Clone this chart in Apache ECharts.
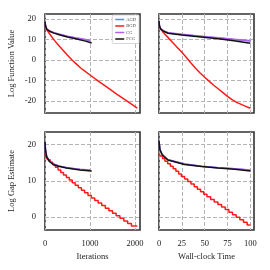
<!DOCTYPE html>
<html><head><meta charset="utf-8">
<script src="https://cdn.jsdelivr.net/npm/echarts@6/dist/echarts.min.js"></script>
<style>html,body{margin:0;padding:0;background:#fff}#c{width:270px;height:270px}</style>
</head><body><div id="c"></div>
<script>
// ---- data ----
const seriesNames = ['AGD', 'BGD', 'CG', 'FCG'];
const seriesColors = ['#5a8fd6', '#ff1a1a', '#b45ef0', '#111111'];

// Log function value vs iterations
const fvIterAGD = [[0,18.7],[10,16.9],[37,15.2],[100,14.1],[200,13.2],[333,12.4],[500,11.5],[704,10.6],[900,9.9],[1000,9.3]];
const fvIterBGD = [[0,16],[100,12.8],[200,9.8],[300,7.2],[400,4.8],[500,2.3],[600,0],[700,-2],[800,-4],[900,-5.7],[1000,-7.3],[1200,-10.5],[1400,-13.6],[1600,-16.7],[1800,-19.7],[2000,-22.7],[2050,-23.4]];
const fvIterCG  = [[0,18.7],[10,16.9],[37,15.2],[100,14.2],[200,13.3],[333,12.5],[500,11.6],[704,10.7],[900,10.0],[1000,9.5]];
const fvIterFCG = [[0,18.7],[10,16.8],[37,15.0],[100,14.0],[200,13.1],[333,12.2],[500,11.2],[704,10.2],[900,9.2],[1037,8.3]];

// Log function value vs wall-clock time
const fvTimeAGD = [[0,19],[0.5,16.6],[2,15.2],[5,14.2],[10,13.2],[25,12.4],[46,11.5],[65,10.7],[82,10.0],[100,9.2]];
const fvTimeBGD = [[0,16],[5,13.3],[10,10.9],[15,8.5],[20,6.1],[25,3.8],[30,1.2],[35,-1.5],[40,-4.0],[45,-6.3],[50,-8.4],[55,-10.4],[60,-12.3],[65,-14.1],[70,-15.9],[75,-17.7],[80,-19.3],[85,-20.6],[90,-21.6],[95,-22.6],[100,-23.5]];
const fvTimeCG  = [[0,19],[0.5,16.6],[2,15.2],[5,14.2],[10,13.3],[25,12.5],[46,11.6],[65,10.8],[82,10.1],[100,9.4]];
const fvTimeFCG = [[0,19],[0.5,16.5],[2,15.0],[5,14.0],[10,13.0],[25,12.2],[46,11.2],[65,10.3],[82,9.4],[100,8.2]];

// Log gap estimate vs iterations
const gapIterAGD = [[0,20.7],[10,18.6],[37,16.7],[100,15.4],[185,14.6],[300,14.1],[481,13.6],[778,13.1],[1000,12.9]];
const gapIterBGD = [[0,17.2],[20,16.5],[60,15.8],[115,15.1],[170,14.4],[230,13.7],[290,13.0],[350,12.3],[410,11.6],[475,10.9],[540,10.2],[605,9.5],[670,8.8],[740,8.1],[810,7.4],[880,6.7],[955,6.0],[1030,5.3],[1105,4.6],[1180,3.9],[1260,3.2],[1340,2.5],[1420,1.8],[1500,1.1],[1580,0.4],[1665,-0.3],[1750,-1.0],[1835,-1.7],[1920,-2.4],[2050,-2.4]];
const gapIterCG  = [[0,20.7],[10,18.6],[37,16.7],[100,15.4],[185,14.6],[300,14.1],[481,13.6],[778,13.2],[1000,13.0]];
const gapIterFCG = [[0,20.7],[10,18.5],[37,16.6],[100,15.3],[185,14.5],[300,14.0],[481,13.5],[778,13.0],[1037,12.7]];

// Log gap estimate vs wall-clock time
const gapTimeAGD = [[0,21],[1,18.6],[3.6,17.2],[9.8,15.8],[28,14.6],[46.6,14.0],[64.8,13.6],[83,13.3],[100,12.9]];
const gapTimeBGD = [[0,17.5],[1.5,16.8],[4,16.1],[6.5,15.4],[9.5,14.7],[12.5,14.0],[15.5,13.3],[18.5,12.6],[21.5,11.9],[24.5,11.2],[28,10.5],[31.5,9.8],[35,9.1],[38.5,8.4],[42,7.7],[45.5,7.0],[49,6.3],[52.5,5.6],[56.5,4.9],[60.5,4.2],[64.5,3.5],[68.5,2.8],[72.5,2.1],[76.5,1.4],[80.5,0.7],[84.5,0.0],[88.5,-0.7],[92.5,-1.4],[96.5,-2.1],[100,-2.1]];
const gapTimeCG  = [[0,21],[1,18.6],[3.6,17.2],[9.8,15.8],[28,14.6],[46.6,14.0],[64.8,13.6],[83,13.3],[100,13.0]];
const gapTimeFCG = [[0,21],[1,18.5],[3.6,17.1],[9.8,15.7],[28,14.5],[46.6,13.9],[64.8,13.5],[83,13.2],[100,12.7]];

const fvTicks = [-20, -10, 0, 10, 20];
const gapTicks = [0, 10, 20];
const iterTicks = [0, 1000, 2000];
const timeTicks = [0, 25, 50, 75, 100];

const panels = [
  {data: [fvIterAGD, fvIterBGD, fvIterCG, fvIterFCG], bgdStep: false},
  {data: [fvTimeAGD, fvTimeBGD, fvTimeCG, fvTimeFCG], bgdStep: false},
  {data: [gapIterAGD, gapIterBGD, gapIterCG, gapIterFCG], bgdStep: true},
  {data: [gapTimeAGD, gapTimeBGD, gapTimeCG, gapTimeFCG], bgdStep: true}
];

// ---- chart ----
const FONT = 'Liberation Serif';
const gridLine = {show: true, lineStyle: {color: '#b4b4b4', width: 1, type: [4, 2]}};
const L = [45, 159], T = [14, 132], W = 95, H = [99, 98];
const grids = [];
for (let r = 0; r < 2; r++) for (let c = 0; c < 2; c++) {
  grids.push({left: L[c], top: T[r], width: W, height: H[r], show: true, borderColor: '#333', borderWidth: 1.6, backgroundColor: 'transparent', containLabel: false});
}
const fmt = v => String(v);
function xAx(i, isTime, showLabels, name) {
  return {type: 'value', gridIndex: i, min: 0, max: isTime ? 104 : 2110,
    axisLine: {show: false}, axisTick: {show: false, customValues: isTime ? timeTicks : iterTicks},
    axisLabel: {show: showLabels, customValues: isTime ? timeTicks : iterTicks, formatter: fmt, fontFamily: FONT, fontSize: 8.5, color: '#222', margin: 9},
    splitLine: gridLine,
    name: name, nameLocation: 'middle', nameGap: 22, nameTextStyle: {fontFamily: FONT, fontSize: 8.5, color: '#222'}};
}
function yAx(i, isGap, showLabels, name) {
  return {type: 'value', gridIndex: i, min: isGap ? -3.5 : -25.8, max: isGap ? 23.4 : 22.4,
    axisLine: {show: false}, axisTick: {show: false, customValues: isGap ? gapTicks : fvTicks},
    axisLabel: {show: showLabels, customValues: isGap ? gapTicks : fvTicks, formatter: fmt, fontFamily: FONT, fontSize: 8.5, color: '#222', margin: 9},
    splitLine: gridLine,
    name: name, nameLocation: 'middle', nameGap: 29, nameRotate: 90, nameTextStyle: {fontFamily: FONT, fontSize: 8.5, color: '#222'}};
}
const xAxes = [xAx(0, false, false, ''), xAx(1, true, false, ''), xAx(2, false, true, 'Iterations'), xAx(3, true, true, 'Wall-clock Time')];
const yAxes = [yAx(0, false, true, 'Log Function Value'), yAx(1, false, false, ''), yAx(2, true, true, 'Log Gap Estimate'), yAx(3, true, false, '')];

const series = [];
panels.forEach((p, i) => {
  p.data.forEach((d, k) => {
    series.push({type: 'line', name: seriesNames[k], xAxisIndex: i, yAxisIndex: i, data: d,
      showSymbol: false, symbol: 'none', smooth: false, step: (k === 1 && p.bgdStep) ? 'end' : false,
      lineStyle: {color: seriesColors[k], width: 1.5}, itemStyle: {color: seriesColors[k]}, animation: false, z: 2 + k});
  });
});

const chart = echarts.init(document.getElementById('c'), null, {renderer: 'canvas'});
chart.setOption({
  animation: false,
  backgroundColor: '#fff',
  grid: grids, xAxis: xAxes, yAxis: yAxes, series: series,
  legend: {data: seriesNames, orient: 'vertical', right: 131, top: 15, icon: 'rect', itemWidth: 9, itemHeight: 1.5, itemGap: 1.5,
    padding: [2, 3, 2, 3], backgroundColor: '#fff', borderColor: '#ccc', borderWidth: 0.8, borderRadius: 1,
    textStyle: {fontFamily: FONT, fontSize: 4.5, color: '#444', padding: [0, 0, 0, -3]}}
});
</script></body></html>
